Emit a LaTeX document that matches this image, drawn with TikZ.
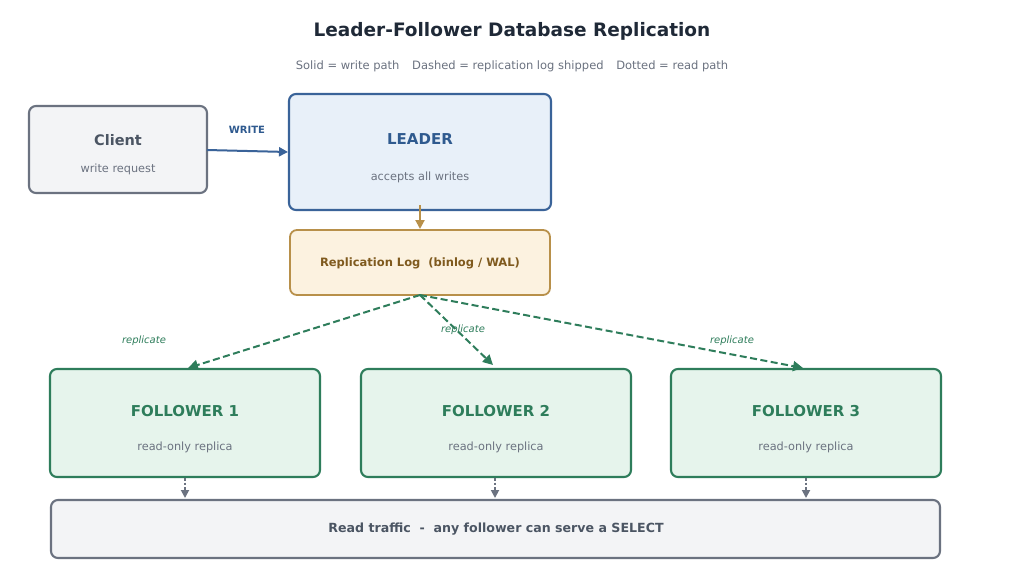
\documentclass[tikz,border=0pt]{standalone}
\usepackage{fontspec}
\setmainfont{DejaVu Sans}
\usetikzlibrary{arrows.meta}
\definecolor{titlec}{HTML}{1F2937}
\definecolor{subc}{HTML}{6B7280}
\definecolor{grayfill}{HTML}{F3F4F6}
\definecolor{graydraw}{HTML}{6B7280}
\definecolor{graytext}{HTML}{4B5563}
\definecolor{bluefill}{HTML}{E8F0F9}
\definecolor{bluedraw}{HTML}{3A6399}
\definecolor{bluetext}{HTML}{2F5A8F}
\definecolor{logfill}{HTML}{FCF2E0}
\definecolor{logdraw}{HTML}{B8904A}
\definecolor{logtext}{HTML}{7F5A1E}
\definecolor{greenfill}{HTML}{E6F4EC}
\definecolor{greendraw}{HTML}{2E7D5B}
\begin{document}
\begin{tikzpicture}[x=1pt,y=-1pt,
  box/.style={rounded corners=7pt,line width=2.1pt},
  clientbox/.style={box,draw=graydraw,fill=grayfill},
  leaderbox/.style={box,draw=bluedraw,fill=bluefill},
  logbox/.style={box,draw=logdraw,fill=logfill,line width=1.8pt},
  folbox/.style={box,draw=greendraw,fill=greenfill},
  readbox/.style={box,draw=graydraw,fill=grayfill},
  lbl/.style={inner sep=0pt},
  writearrow/.style={draw=bluedraw,line width=2pt,-{Triangle[length=9pt,width=9pt]}},
  logarrow/.style={draw=logdraw,line width=2pt,-{Triangle[length=9pt,width=9pt]}},
  reparrow/.style={draw=greendraw,line width=2pt,dash pattern=on 7pt off 3.5pt,-{Triangle[length=10pt,width=10pt]}},
  readarrow/.style={draw=graydraw,line width=1.8pt,dash pattern=on 2.5pt off 2pt,-{Triangle[length=8pt,width=8pt]}},
  repl/.style={lbl,font=\fontsize{10}{12}\selectfont\itshape,text=greendraw}
]
\useasboundingbox (0,0) rectangle (1024,576);
\fill[white] (0,0) rectangle (1024,576);

\node[lbl,font=\fontsize{18.5}{22}\selectfont\bfseries,text=titlec] (title) at (512,31) {Leader-Follower Database Replication};
\node[lbl,font=\fontsize{11.5}{14}\selectfont,text=subc] (sub) at (512,66) {Solid = write path\hspace{1.1em}Dashed = replication log shipped\hspace{1.1em}Dotted = read path};

% Client
\draw[clientbox] (29,106) rectangle (207,193);
\coordinate (clientR) at (207,150);
\node[lbl,font=\fontsize{14.5}{17}\selectfont\bfseries,text=graytext] (clientT) at (118,140) {Client};
\node[lbl,font=\fontsize{11.3}{13}\selectfont,text=graydraw] (clientS) at (118,169) {write request};

% Leader
\draw[leaderbox] (289,94) rectangle (551,210);
\coordinate (leaderL) at (288,152);
\coordinate (leaderB) at (420,205);
\node[lbl,font=\fontsize{15}{18}\selectfont\bfseries,text=bluetext] (leaderT) at (420,139) {LEADER};
\node[lbl,font=\fontsize{11.3}{13}\selectfont,text=graydraw] (leaderS) at (420,177) {accepts all writes};

% write arrow
\draw[writearrow] (clientR) -- (leaderL);
\node[lbl,font=\fontsize{10}{12}\selectfont\bfseries,text=bluetext] (wl) at (247,130) {WRITE};

% Log
\draw[logbox] (290,230) rectangle (550,295);
\coordinate (logT) at (420,229);
\coordinate (logB) at (420,295);
\node[lbl,font=\fontsize{11.5}{14}\selectfont\bfseries,text=logtext] (logtxt) at (420,263) {Replication Log\ \ (binlog / WAL)};
\draw[logarrow] (leaderB) -- (logT);

% Followers
\foreach \i/\xa/\xb in {1/50/320, 2/361/631, 3/671/941}{
  \draw[folbox] (\xa,369) rectangle (\xb,477);
  \node[lbl,font=\fontsize{15}{18}\selectfont\bfseries,text=greendraw] (f\i T) at ({(\xa+\xb)/2},411) {FOLLOWER \i};
  \node[lbl,font=\fontsize{11.3}{13}\selectfont,text=graydraw] (f\i S) at ({(\xa+\xb)/2},447) {read-only replica};
}
\coordinate (f1top) at (188,368);
\coordinate (f2top) at (493,365);
\coordinate (f3top) at (803,368);
\draw[reparrow] (logB) -- (f1top);
\draw[reparrow] (logB) -- (f2top);
\draw[reparrow] (logB) -- (f3top);
\node[repl] (r1) at (144,341) {replicate};
\node[repl] (r2) at (463,330) {replicate};
\node[repl] (r3) at (732,341) {replicate};

% Read traffic
\draw[readbox] (51,500) rectangle (940,558);
\node[lbl,font=\fontsize{12.6}{15}\selectfont\bfseries,text=graytext] (readT) at (496,529) {Read traffic\ \ -\ \ any follower can serve a SELECT};
\foreach \x in {185,495,806}{
  \draw[readarrow] (\x,478) -- (\x,498);
}
\end{tikzpicture}
\end{document}
